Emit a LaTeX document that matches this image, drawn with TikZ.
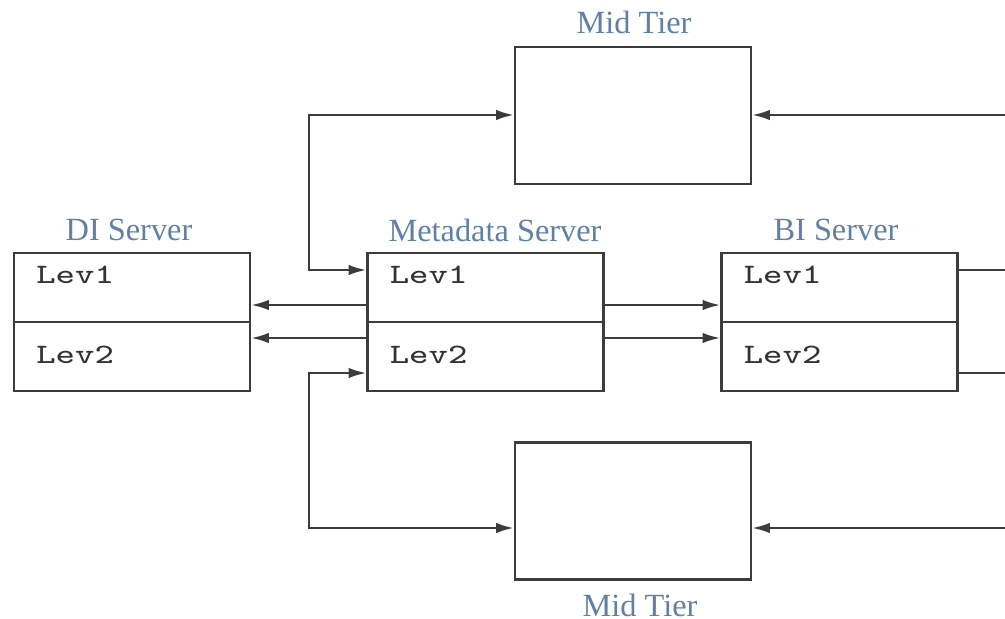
\documentclass[tikz,border=0pt]{standalone}
\usepackage{fontspec}
\usepackage{graphicx}
\setmainfont{Liberation Serif}
\usetikzlibrary{arrows.meta,calc}
\definecolor{titleblue}{RGB}{96,128,168}
\definecolor{linegray}{RGB}{60,60,60}
\newcommand{\levtext}[1]{\scalebox{1.3}[1]{#1}}

\begin{document}
\begin{tikzpicture}[x=0.01cm, y=-0.01cm, line join=miter,
  >={Latex[length=5pt,width=3pt]},
  box/.style={draw=linegray, line width=0.75pt, minimum width=2.36cm, inner sep=0pt},
  server/.style={box, minimum height=1.38cm},
  midtier/.style={box, minimum height=1.37cm},
  lev/.style={anchor=west, inner sep=0pt, text=black!80,
    font=\ttfamily\fontsize{8}{10}\selectfont},
  title/.style={inner sep=0pt, text=titleblue, font=\fontsize{9.2}{11}\selectfont},
  wire/.style={draw=linegray, line width=0.6pt}]

  \useasboundingbox (0,0) rectangle (1005,619);

  % boxes
  \node[server] (di) at (132,322) {};
  \node[server] (meta) at (485.5,322) {};
  \node[server] (bi) at (839.5,322) {};
  \node[midtier] (midtop) at (633,115.5) {};
  \node[midtier] (midbot) at (633,511) {};

  \foreach \s in {di,meta,bi} {
    \draw[wire] (\s.west) -- (\s.east);
    \node[lev] (\s-lev1) at ($(\s.north west)+(23,23)$) {\levtext{Lev1}};
    \node[lev] (\s-lev2) at ($(\s.north west)+(23,103)$) {\levtext{Lev2}};
  }

  % titles
  \node[title] (di-title) at (129,230) {DI Server};
  \node[title] (meta-title) at (495,230) {Metadata Server};
  \node[title] (bi-title) at (836,230) {BI Server};
  \node[title] (midtop-title) at (634,22) {Mid Tier};
  \node[title] (midbot-title) at (640,605) {Mid Tier};

  % links between servers
  \draw[wire,->] (meta.west |- 0,305) -- (di.east |- 0,305);
  \draw[wire,->] (meta.west |- 0,338) -- (di.east |- 0,338);
  \draw[wire,->] (meta.east |- 0,305) -- (bi.west |- 0,305);
  \draw[wire,->] (meta.east |- 0,338) -- (bi.west |- 0,338);

  % loops to the mid tiers
  \coordinate (looptop) at (309,115);
  \coordinate (loopbot) at (309,528);
  \draw[wire,<->] (midtop.west |- looptop) -- (looptop) |- (meta.west |- 0,270);
  \draw[wire,<->] (midbot.west |- loopbot) -- (loopbot) |- (meta.west |- 0,373);

  % right edge
  \coordinate (out1) at (1005,270);
  \coordinate (out2) at (1005,373);
  \coordinate (in1) at (1005,115);
  \coordinate (in2) at (1005,528);
  \draw[wire] (bi.east |- out1) -- (out1);
  \draw[wire] (bi.east |- out2) -- (out2);
  \draw[wire,->] (in1) -- (midtop.east |- in1);
  \draw[wire,->] (in2) -- (midbot.east |- in2);

\end{tikzpicture}
\end{document}
